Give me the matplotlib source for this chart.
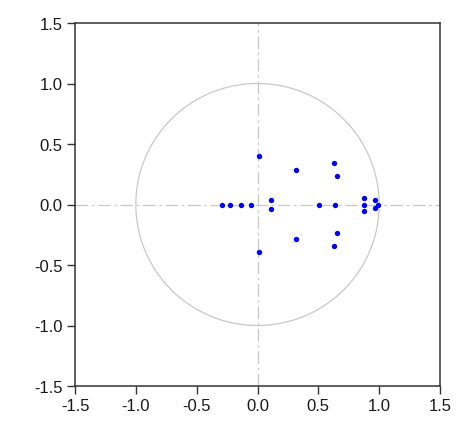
import numpy as np
import matplotlib
matplotlib.use('Agg')
import matplotlib.pyplot as plt

# inverse roots
re_roots = [0.01, 0.01, 0.32, 0.32, 0.63, 0.63, 0.65, 0.65, 0.107, 0.107,
            -0.29, -0.23, -0.135, -0.05, 0.505, 0.64,
            0.876, 0.876, 0.876, 0.965, 0.965, 0.99]
im_roots = [0.40, -0.395, 0.285, -0.285, 0.34, -0.34, 0.235, -0.235, 0.038, -0.04,
            0.0, 0.0, 0.0, 0.0, 0.0, 0.0,
            0.054, 0.0, -0.05, 0.04, -0.03, 0.0]
ticks = [-1.5, -1.0, -0.5, 0.0, 0.5, 1.0, 1.5]

plt.rcParams['font.family'] = ['Liberation Sans', 'DejaVu Sans']

fig = plt.figure(figsize=(4.7, 4.35), dpi=100)
ax = fig.add_axes([75/470, 48/435, 365/470, 363/435])

t = np.linspace(0, 2*np.pi, 400)
ax.plot(np.cos(t), np.sin(t), color='#c8c8c8', lw=0.9, zorder=1)
ax.axhline(0, color='#c8c8c8', lw=0.9, ls=(0, (10, 3, 2, 3)), zorder=1)
ax.axvline(0, color='#c8c8c8', lw=0.9, ls=(0, (10, 3, 2, 3)), zorder=1)

ax.scatter(re_roots, im_roots, s=15, color='#0000ff', marker='o', zorder=3,
           linewidths=0)

ax.set_xlim(-1.5, 1.5)
ax.set_ylim(-1.5, 1.5)
ax.set_xticks(ticks)
ax.set_yticks(ticks)
ax.set_xticklabels(['%.1f' % v for v in ticks])
ax.set_yticklabels(['%.1f' % v for v in ticks])
ax.tick_params(direction='out', length=6, width=1, labelsize=12,
               colors='#333333', labelcolor='#1a1a1a', pad=3)
for s in ax.spines.values():
    s.set_color('#333333')
    s.set_linewidth(1.1)

fig.savefig('out.png', dpi=100)
